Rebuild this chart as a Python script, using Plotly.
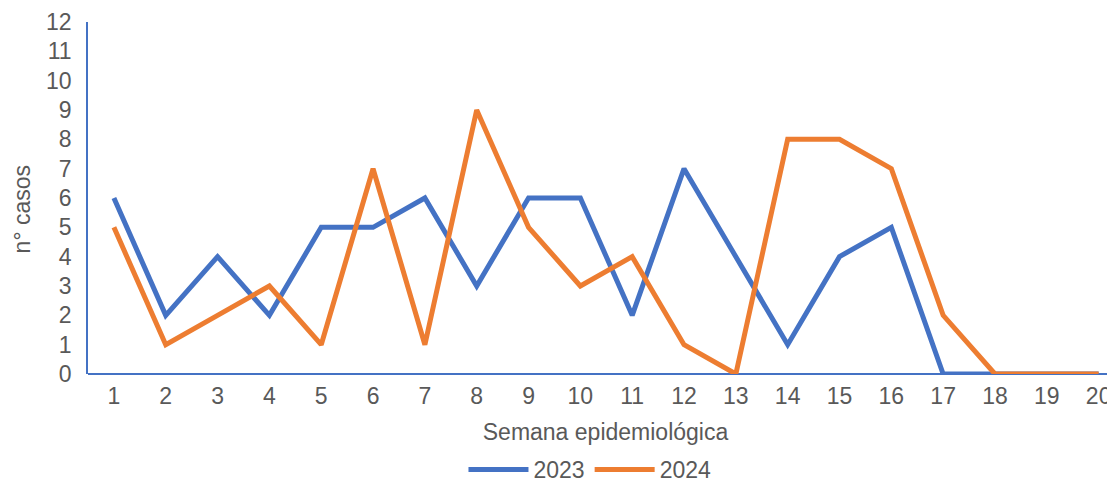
import plotly.graph_objects as go

semanas = list(range(1, 21))
casos_2023 = [6, 2, 4, 2, 5, 5, 6, 3, 6, 6, 2, 7, 4, 1, 4, 5, 0, 0, 0, 0]
casos_2024 = [5, 1, 2, 3, 1, 7, 1, 9, 5, 3, 4, 1, 0, 8, 8, 7, 2, 0, 0, 0]

fig = go.Figure()
fig.add_scatter(x=semanas, y=casos_2023, mode="lines", name="2023",
                line=dict(color="#4472C4", width=5))
fig.add_scatter(x=semanas, y=casos_2024, mode="lines", name="2024",
                line=dict(color="#ED7D31", width=5))

# page body adds ~8px offset, so margins are trimmed to compensate
fig.update_layout(
    width=1115, height=483,
    margin=dict(l=80, r=0, t=14, b=116),
    paper_bgcolor="white", plot_bgcolor="white",
    font=dict(family="Liberation Sans, Arial", size=23, color="#595959"),
    legend=dict(orientation="h", x=0.485, xanchor="center", y=-0.272, yanchor="middle",
                font=dict(size=23), itemwidth=60, tracegroupgap=0),
    xaxis=dict(
        range=[0.5, 20.47], tickmode="array", tickvals=semanas,
        showgrid=False, zeroline=False, showline=False, ticks="",
        automargin=False, ticklabelstandoff=6,
        title=dict(text="Semana epidemiológica", font=dict(size=23)),
    ),
    yaxis=dict(
        range=[0, 12], dtick=1, showgrid=False, zeroline=True,
        zerolinecolor="#4472C4", zerolinewidth=1.5,
        showline=True, linecolor="#4472C4", linewidth=1.5, ticks="",
        automargin=False, ticklabelstandoff=10,
    ),
    annotations=[dict(text="n° casos", textangle=-90, xref="paper", yref="paper",
                      x=-0.064, y=0.467, xanchor="center", yanchor="middle",
                      showarrow=False, font=dict(size=23, color="#595959"))],
)

fig.write_html("out.html")
